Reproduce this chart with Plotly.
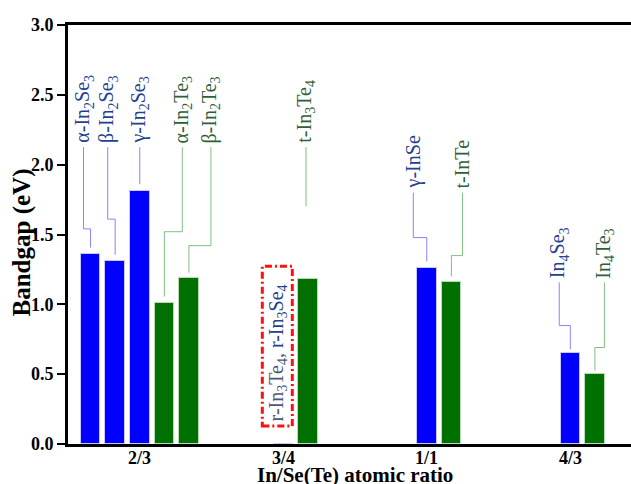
import plotly.graph_objects as go

# ---------------- data ----------------
categories = ["2/3", "3/4", "1/1", "4/3"]

se_names = ["α-In<sub>2</sub>Se<sub>3</sub>", "β-In<sub>2</sub>Se<sub>3</sub>", "γ-In<sub>2</sub>Se<sub>3</sub>",
            "r-In<sub>3</sub>Se<sub>4</sub>", "γ-InSe", "In<sub>4</sub>Se<sub>3</sub>"]
se_cat = [0, 0, 0, 1, 2, 3]
se_slot = [-2, -1, 0, 0, 0, 0]
se_gap = [1.36, 1.31, 1.81, 0.0, 1.26, 0.65]

te_names = ["α-In<sub>2</sub>Te<sub>3</sub>", "β-In<sub>2</sub>Te<sub>3</sub>", "t-In<sub>3</sub>Te<sub>4</sub>",
            "t-InTe", "In<sub>4</sub>Te<sub>3</sub>"]
te_cat = [0, 0, 1, 2, 3]
te_slot = [1, 2, 1, 1, 1]
te_gap = [1.01, 1.19, 1.18, 1.16, 0.50]

# leader-label layout (label offset from bar, jog height, label base, line end)
se_lab_dx = [-0.049, -0.052, 0.0, None, -0.094, -0.077]
se_jog = [1.54, 1.61, None, None, 1.478, 0.848]
se_lab_y = [2.125, 2.125, 2.125, None, 1.80, 1.157]
se_end = [1.406, 1.356, 1.86, None, 1.306, 0.677]

te_lab_dx = [0.125, 0.153, -0.013, 0.077, 0.066]
te_jog = [1.52, 1.42, None, 1.349, 0.691]
te_lab_y = [2.125, 2.125, 2.125, 1.80, 1.157]
te_end = [1.056, 1.227, 1.70, 1.20, 0.527]

SLOT = 0.1714
BARW = 0.136

BLUE, GREEN = "#0000ff", "#007000"
BLUE_LINE, GREEN_LINE = "#8585ff", "#7fc07f"
BLUE_TXT, GREEN_TXT = "#23418f", "#2f5e3a"
SERIF = "Liberation Serif"

se_x = [c + s * SLOT for c, s in zip(se_cat, se_slot)]
te_x = [c + s * SLOT for c, s in zip(te_cat, te_slot)]

fig = go.Figure()
fig.add_trace(go.Bar(x=se_x, y=se_gap, width=BARW, marker=dict(color=BLUE, line=dict(color="#c8c8ff", width=1)),
                     showlegend=False, hoverinfo="skip"))
fig.add_trace(go.Bar(x=te_x, y=te_gap, width=BARW, marker=dict(color=GREEN, line=dict(color="#b8dcb8", width=1)),
                     showlegend=False, hoverinfo="skip"))

annotations = []


def add_leaders(xs, names, dxs, jogs, laby, ends, lcol, tcol):
    for bx, nm, dx, jg, ly, en in zip(xs, names, dxs, jogs, laby, ends):
        if dx is None:
            continue
        lx = bx + dx
        if jg is None:
            px, py = [lx, lx], [ly, en]
        else:
            px, py = [lx, lx, bx, bx], [ly, jg, jg, en]
        fig.add_trace(go.Scatter(x=px, y=py, mode="lines", line=dict(color=lcol, width=1),
                                 showlegend=False, hoverinfo="skip"))
        annotations.append(dict(x=lx, y=ly, xref="x", yref="y", text=nm, textangle=-90,
                                showarrow=False, xanchor="center", yanchor="bottom", borderpad=0,
                                yshift=3,
                                font=dict(family=SERIF, size=20, color=tcol)))


add_leaders(se_x, se_names, se_lab_dx, se_jog, se_lab_y, se_end, BLUE_LINE, BLUE_TXT)
add_leaders(te_x, te_names, te_lab_dx, te_jog, te_lab_y, te_end, GREEN_LINE, GREEN_TXT)

# metallic r-phases label in red dashed box
annotations.append(dict(x=1 - 0.04, y=0.155, xref="x", yref="y",
                        text="<span style='color:#48587a'>r-In<sub>3</sub>Te<sub>4</sub>,</span> "
                             "<span style='color:#23418f'>r-In<sub>3</sub>Se<sub>4</sub></span>",
                        textangle=-90, showarrow=False, xanchor="center", yanchor="bottom", borderpad=0,
                        font=dict(family=SERIF, size=20)))

shapes = [dict(type="rect", xref="x", yref="y", x0=1 - 0.146, x1=1 + 0.063, y0=0.129, y1=1.272,
               line=dict(color="#ff1010", width=3, dash="7px,3px,2px,3px"))]

# category tick labels (placed close under the axis, as in the reference)
for i, cat in enumerate(categories):
    annotations.append(dict(x=i, y=0, xref="x", yref="paper", text=cat, showarrow=False,
                            xanchor="center", yanchor="top", yshift=-3, borderpad=0,
                            font=dict(family=SERIF, size=18, color="black", weight="bold")))

# axis titles
annotations.append(dict(x=-0.0817, y=0.481, xref="paper", yref="paper", text="Bandgap (eV)",
                        textangle=-90, showarrow=False, xanchor="center", yanchor="middle",
                        font=dict(family=SERIF, size=25, color="black", weight="bold")))
annotations.append(dict(x=0.509, y=-0.074, xref="paper", yref="paper", text="In/Se(Te) atomic ratio",
                        showarrow=False, xanchor="center", yanchor="middle",
                        font=dict(family=SERIF, size=21, color="black", weight="bold")))

fig.update_layout(
    width=631, height=484,
    margin=dict(l=68, r=0, t=25, b=40),
    plot_bgcolor="white", paper_bgcolor="white",
    bargap=0, barmode="overlay",
    annotations=annotations, shapes=shapes,
    xaxis=dict(range=[-0.5, 3.423], tickvals=list(range(len(categories))),
               showticklabels=False,
               showline=True, linecolor="black", linewidth=3, mirror=True, ticks="",
               showgrid=False, zeroline=False),
    yaxis=dict(range=[0, 3.0], tickvals=[0, 0.5, 1.0, 1.5, 2.0, 2.5, 3.0],
               ticktext=["0.0", "0.5", "1.0", "1.5", "2.0", "2.5", "3.0"],
               showline=True, linecolor="black", linewidth=3, mirror=False,
               ticks="outside", ticklen=8, tickwidth=2, tickcolor="black",
               showgrid=False, zeroline=False,
               tickfont=dict(family=SERIF, size=18, color="black", weight="bold")),
)

fig.write_html("out.html")
